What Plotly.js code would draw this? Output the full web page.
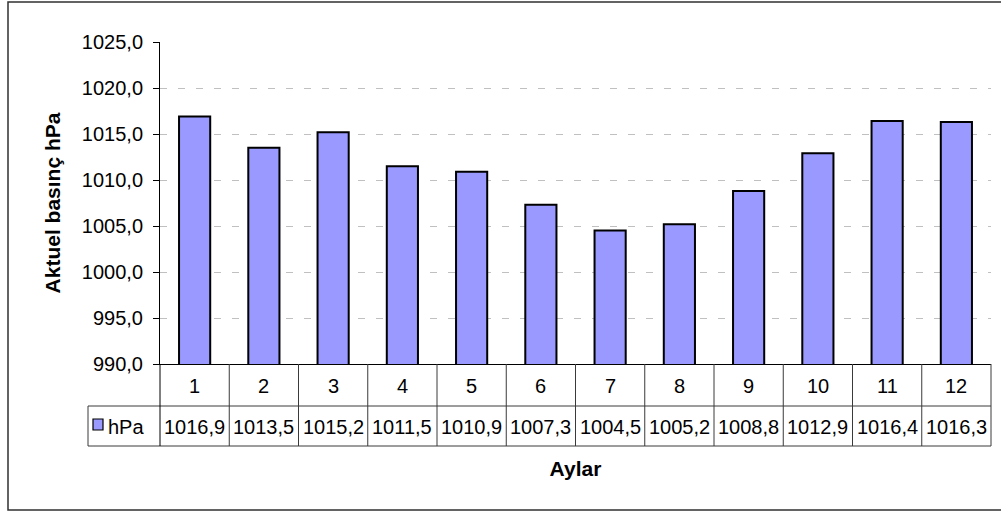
<!DOCTYPE html>
<html>
<head>
<meta charset="utf-8">
<script src="https://cdn.plot.ly/plotly-3.0.1.min.js"></script>
<style>
  html, body { margin: 0; padding: 0; background: #ffffff; }
  #chart { width: 1001px; height: 512px; }
</style>
</head>
<body>
<div id="chart"></div>
<script>
// ---- data ----
const categories = ['1', '2', '3', '4', '5', '6', '7', '8', '9', '10', '11', '12'];
const pressure = [1016.9, 1013.5, 1015.2, 1011.5, 1010.9, 1007.3, 1004.5, 1005.2, 1008.8, 1012.9, 1016.4, 1016.3];
const seriesName = 'hPa';
const yTickValues = [990, 995, 1000, 1005, 1010, 1015, 1020, 1025];
const yTitle = 'Aktuel basınç hPa';
const xTitle = 'Aylar';

// ---- layout geometry (pixels) ----
const W = 1001, H = 512;
const M = { l: 160, r: 10, t: 42, b: 148 };
const L = M.l, R = W - M.r, T = M.t, B = H - M.b;
const px = x => (x - L) / (R - L);   // pixel x -> paper x
const py = y => (B - y) / (B - T);   // pixel y -> paper y

const FONT = 'Arial, "Liberation Sans", sans-serif';
const fmt = v => v.toFixed(1).replace('.', ',');

const row1Top = B, row1Bot = 406, row2Bot = 446, legendLeft = 88;
const tableLine = { color: '#3a3a3a', width: 1 };

const shapes = [];
// outer chart border
shapes.push({ type: 'rect', xref: 'paper', yref: 'paper', x0: px(8), x1: px(1004), y0: py(510), y1: py(2),
  line: { color: '#303030', width: 1.5 }, layer: 'below' });
// table horizontal lines
shapes.push({ type: 'line', xref: 'paper', yref: 'paper', x0: px(legendLeft), x1: 1, y0: py(row1Bot), y1: py(row1Bot), line: tableLine });
shapes.push({ type: 'line', xref: 'paper', yref: 'paper', x0: px(legendLeft), x1: 1, y0: py(row2Bot), y1: py(row2Bot), line: tableLine });
// legend cell left border
shapes.push({ type: 'line', xref: 'paper', yref: 'paper', x0: px(legendLeft), x1: px(legendLeft), y0: py(row1Bot), y1: py(row2Bot), line: tableLine });
// table left & right borders
shapes.push({ type: 'line', xref: 'paper', yref: 'paper', x0: 0, x1: 0, y0: py(row1Top), y1: py(row2Bot), line: { color: '#000', width: 1 } });
shapes.push({ type: 'line', xref: 'paper', yref: 'paper', x0: 1, x1: 1, y0: py(row1Top), y1: py(row2Bot), line: tableLine });
// interior vertical lines at category boundaries
for (let i = 1; i < categories.length; i++) {
  shapes.push({ type: 'line', xref: 'x', yref: 'paper', x0: i - 0.5, x1: i - 0.5, y0: py(row1Top), y1: py(row2Bot), line: tableLine });
}
// legend marker
shapes.push({ type: 'rect', xref: 'paper', yref: 'paper', x0: px(93), x1: px(103), y0: py(430), y1: py(419),
  fillcolor: '#9999FF', line: { color: '#000', width: 1.2 } });

const annotations = [];
categories.forEach((c, i) => {
  annotations.push({ xref: 'x', yref: 'paper', x: i, y: py(386), text: c, showarrow: false,
    xanchor: 'center', yanchor: 'middle', font: { family: FONT, size: 20, color: '#000' } });
  annotations.push({ xref: 'x', yref: 'paper', x: i, y: py(427), text: fmt(pressure[i]), showarrow: false,
    xanchor: 'center', yanchor: 'middle', font: { family: FONT, size: 20, color: '#000' } });
});
annotations.push({ xref: 'paper', yref: 'paper', x: px(106), y: py(427), text: seriesName, showarrow: false,
  xanchor: 'left', yanchor: 'middle', font: { family: FONT, size: 20, color: '#000' } });

const trace = {
  type: 'bar',
  x: categories,
  y: pressure,
  name: seriesName,
  width: 0.45,
  marker: { color: '#9999FF', line: { color: '#000000', width: 2 } },
  hoverinfo: 'x+y'
};

const layout = {
  width: W, height: H,
  margin: { l: M.l, r: M.r, t: M.t, b: M.b, pad: 0 },
  paper_bgcolor: '#ffffff', plot_bgcolor: '#ffffff',
  showlegend: false,
  font: { family: FONT, size: 20, color: '#000' },
  xaxis: {
    type: 'category', range: [-0.5, 11.5],
    showticklabels: false, ticks: '', showgrid: false, zeroline: false,
    showline: true, linecolor: '#000', linewidth: 1,
    title: { text: xTitle, font: { family: FONT, size: 21, weight: 700, color: '#000' }, standoff: 97 },
    automargin: false
  },
  yaxis: {
    range: [990, 1025], tickvals: yTickValues, tickformat: '.1f',
    ticks: 'outside', ticklen: 6, tickcolor: '#000', tickwidth: 1,
    ticklabelstandoff: 6,
    showline: true, linecolor: '#000', linewidth: 1,
    showgrid: true, gridcolor: '#c0c0c0', griddash: '7px,11px', gridwidth: 1,
    zeroline: false,
    tickfont: { family: FONT, size: 20, color: '#000' },
    title: { text: yTitle, font: { family: FONT, size: 21, weight: 700, color: '#000' }, standoff: 15 },
    automargin: false
  },
  separators: ',.',
  shapes: shapes,
  annotations: annotations
};

Plotly.newPlot('chart', [trace], layout, { displayModeBar: false, staticPlot: true });
</script>
</body>
</html>
